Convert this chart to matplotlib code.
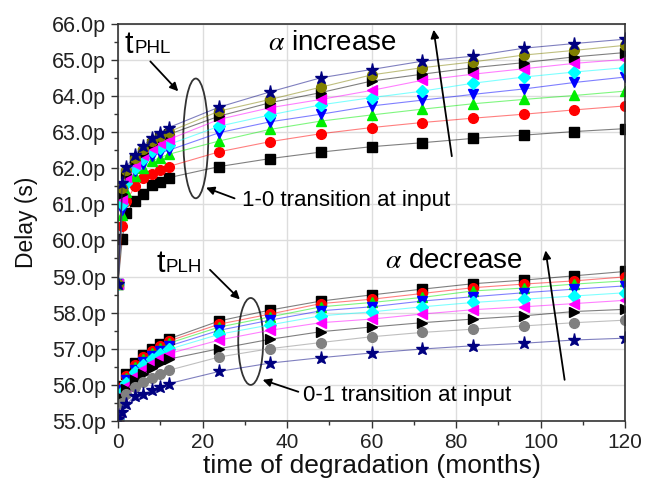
import matplotlib
matplotlib.use("Agg")
import matplotlib.pyplot as plt
from matplotlib.patches import Ellipse
from matplotlib.ticker import MultipleLocator, FuncFormatter

plt.rcParams['font.family'] = ['Liberation Sans', 'DejaVu Sans']
plt.rcParams['mathtext.fontset'] = 'stix'

# tiempo de degradacion (meses)
months = [0, 1, 2, 4, 6, 8, 10, 12, 24, 36, 48, 60, 72, 84, 96, 108, 120]

# tPHL (1-0 en la entrada), de abajo hacia arriba
phl_square = [58.8, 60.04, 60.76, 61.10, 61.30, 61.54, 61.62, 61.74, 62.05, 62.27, 62.45, 62.60, 62.71, 62.83, 62.92, 63.02, 63.10]
phl_circle = [58.8, 60.40, 61.10, 61.50, 61.72, 61.85, 61.95, 62.05, 62.46, 62.74, 62.96, 63.13, 63.27, 63.39, 63.50, 63.62, 63.73]
phl_up = [58.8, 60.70, 61.35, 61.79, 62.00, 62.20, 62.30, 62.39, 62.76, 63.08, 63.31, 63.48, 63.64, 63.79, 63.91, 64.02, 64.14]
phl_down = [58.8, 60.85, 61.50, 61.93, 62.11, 62.34, 62.43, 62.50, 62.99, 63.29, 63.50, 63.73, 63.89, 64.05, 64.20, 64.38, 64.53]
phl_diamond = [58.8, 61.00, 61.60, 62.02, 62.25, 62.48, 62.57, 62.66, 63.17, 63.48, 63.76, 63.96, 64.14, 64.36, 64.53, 64.67, 64.79]
phl_left = [58.8, 61.15, 61.75, 62.11, 62.37, 62.57, 62.71, 62.80, 63.36, 63.68, 63.91, 64.16, 64.44, 64.61, 64.76, 64.91, 65.02]
phl_right = [58.8, 61.30, 61.85, 62.22, 62.43, 62.68, 62.83, 62.94, 63.45, 63.82, 64.10, 64.42, 64.61, 64.79, 64.93, 65.09, 65.21]
phl_olive = [58.8, 61.45, 61.95, 62.30, 62.53, 62.76, 62.90, 63.01, 63.59, 63.91, 64.25, 64.59, 64.79, 64.95, 65.14, 65.27, 65.41]
phl_star = [58.8, 61.60, 62.04, 62.37, 62.62, 62.85, 62.99, 63.13, 63.70, 64.12, 64.51, 64.74, 64.97, 65.11, 65.33, 65.46, 65.58]

# tPLH (0-1 en la entrada), de arriba hacia abajo
plh_square = [55.05, 55.97, 56.29, 56.60, 56.82, 56.99, 57.13, 57.27, 57.77, 58.07, 58.32, 58.49, 58.65, 58.80, 58.90, 59.02, 59.14]
plh_circle = [55.05, 55.93, 56.24, 56.54, 56.76, 56.93, 57.07, 57.21, 57.68, 57.96, 58.25, 58.37, 58.53, 58.69, 58.79, 58.88, 58.99]
plh_up = [55.05, 55.90, 56.19, 56.48, 56.70, 56.87, 57.01, 57.15, 57.60, 57.88, 58.16, 58.28, 58.42, 58.60, 58.68, 58.79, 58.88]
plh_down = [55.05, 55.86, 56.13, 56.42, 56.63, 56.80, 56.94, 57.07, 57.51, 57.79, 58.05, 58.16, 58.32, 58.44, 58.55, 58.65, 58.74]
plh_diamond = [55.05, 55.80, 56.06, 56.34, 56.55, 56.71, 56.85, 56.98, 57.40, 57.66, 57.91, 58.02, 58.16, 58.28, 58.37, 58.46, 58.55]
plh_left = [55.05, 55.72, 55.97, 56.24, 56.44, 56.60, 56.73, 56.86, 57.24, 57.51, 57.72, 57.82, 57.96, 58.08, 58.16, 58.25, 58.34]
plh_right = [55.05, 55.63, 55.88, 56.12, 56.31, 56.46, 56.59, 56.71, 57.00, 57.26, 57.47, 57.60, 57.72, 57.82, 57.91, 58.03, 58.09]
plh_gray = [55.05, 55.50, 55.75, 55.95, 56.08, 56.20, 56.30, 56.40, 56.77, 57.00, 57.17, 57.33, 57.45, 57.54, 57.63, 57.72, 57.79]
plh_star = [55.05, 55.23, 55.46, 55.69, 55.74, 55.84, 55.94, 56.03, 56.37, 56.60, 56.75, 56.88, 56.99, 57.08, 57.15, 57.24, 57.29]

# (datos, marcador, color, tamano)
phl = [
    (phl_square, "s", "black", 6.5),
    (phl_circle, "o", "red", 7),
    (phl_up, "^", "#00ee00", 7.5),
    (phl_down, "v", "blue", 7.5),
    (phl_diamond, "D", "cyan", 6),
    (phl_left, "<", "magenta", 7.5),
    (phl_right, ">", "black", 7.5),
    (phl_olive, "o", "#808000", 7),
    (phl_star, "*", "#000080", 9.5),
]
plh = [
    (plh_square, "s", "black", 6.5),
    (plh_circle, "o", "red", 7),
    (plh_up, "^", "#00ee00", 7.5),
    (plh_down, "v", "blue", 7.5),
    (plh_diamond, "D", "cyan", 6),
    (plh_left, "<", "magenta", 7.5),
    (plh_right, ">", "black", 7.5),
    (plh_gray, "o", "gray", 7),
    (plh_star, "*", "#000080", 9.5),
]

fig, ax = plt.subplots(figsize=(6.45, 4.91), dpi=100)
fig.subplots_adjust(left=0.183, right=0.969, bottom=0.143, top=0.951)

for grupo in (phl, plh):
    for datos, m, c, ms in grupo:
        ax.plot(months, datos, color=c, lw=0.8, alpha=0.5)  # linea tenue
        ax.plot(months, datos, ls="none", marker=m, color=c, ms=ms, mec=c)

ax.set_xlim(0, 120)
ax.set_ylim(55, 66)
ax.xaxis.set_major_locator(MultipleLocator(20))
ax.xaxis.set_minor_locator(MultipleLocator(10))
ax.yaxis.set_major_locator(MultipleLocator(1))
ax.yaxis.set_minor_locator(MultipleLocator(0.5))
ax.yaxis.set_major_formatter(FuncFormatter(lambda v, p: f"{v:.1f}p"))
ax.tick_params(which="major", direction="out", length=5, width=1, labelsize=15,
               color="#333333", labelcolor="#222222")
ax.tick_params(which="minor", direction="out", length=3, width=1, color="#333333")
ax.tick_params(axis="y", labelsize=15.5)
ax.grid(True, which="major", color="#dddddd", lw=1)
ax.set_axisbelow(True)
for s in ax.spines.values():
    s.set_color("#333333")
    s.set_linewidth(1.2)

ax.set_xlabel("time of degradation (months)", fontsize=19, labelpad=2, color="#111111")
ax.set_ylabel("Delay (s)", fontsize=16.5, labelpad=10, color="#111111")

# anotaciones
ax.text(1.6, 65.2, "t", fontsize=22)
ax.text(4.0, 65.2, "PHL", fontsize=13.5)
ax.annotate("", xy=(14.7, 64.08), xytext=(7.2, 65.02),
            arrowprops=dict(arrowstyle="-|>", color="black", lw=1.3, mutation_scale=12))
ax.add_patch(Ellipse((18.4, 62.83), 5.9, 3.32, fill=False, ec="#333333", lw=1.3))
ax.text(29.3, 60.96, "1-0 transition at input", fontsize=16)
ax.annotate("", xy=(20.2, 61.49), xytext=(28.2, 61.14),
            arrowprops=dict(arrowstyle="-|>", color="black", lw=1.3, mutation_scale=12))

ax.text(35.5, 65.28, r"$\alpha$ increase", fontsize=20)
ax.annotate("", xy=(74.6, 65.92), xytext=(79.1, 62.26),
            arrowprops=dict(arrowstyle="-|>", color="black", lw=1.3, mutation_scale=12))

ax.text(9.2, 59.13, "t", fontsize=22)
ax.text(11.2, 59.13, "PLH", fontsize=13.5)
ax.annotate("", xy=(29.3, 58.31), xytext=(21.3, 59.24),
            arrowprops=dict(arrowstyle="-|>", color="black", lw=1.3, mutation_scale=12))
ax.add_patch(Ellipse((31.4, 57.2), 5.9, 2.41, fill=False, ec="#333333", lw=1.3))
ax.text(43.8, 55.54, "0-1 transition at input", fontsize=16)
ax.annotate("", xy=(33.6, 56.16), xytext=(43.3, 55.78),
            arrowprops=dict(arrowstyle="-|>", color="black", lw=1.3, mutation_scale=12))

ax.text(63.2, 59.24, r"$\alpha$ decrease", fontsize=20)
ax.annotate("", xy=(101.1, 59.8), xytext=(105.8, 56.06),
            arrowprops=dict(arrowstyle="-|>", color="black", lw=1.3, mutation_scale=12))

plt.savefig("out.png", dpi=100)
